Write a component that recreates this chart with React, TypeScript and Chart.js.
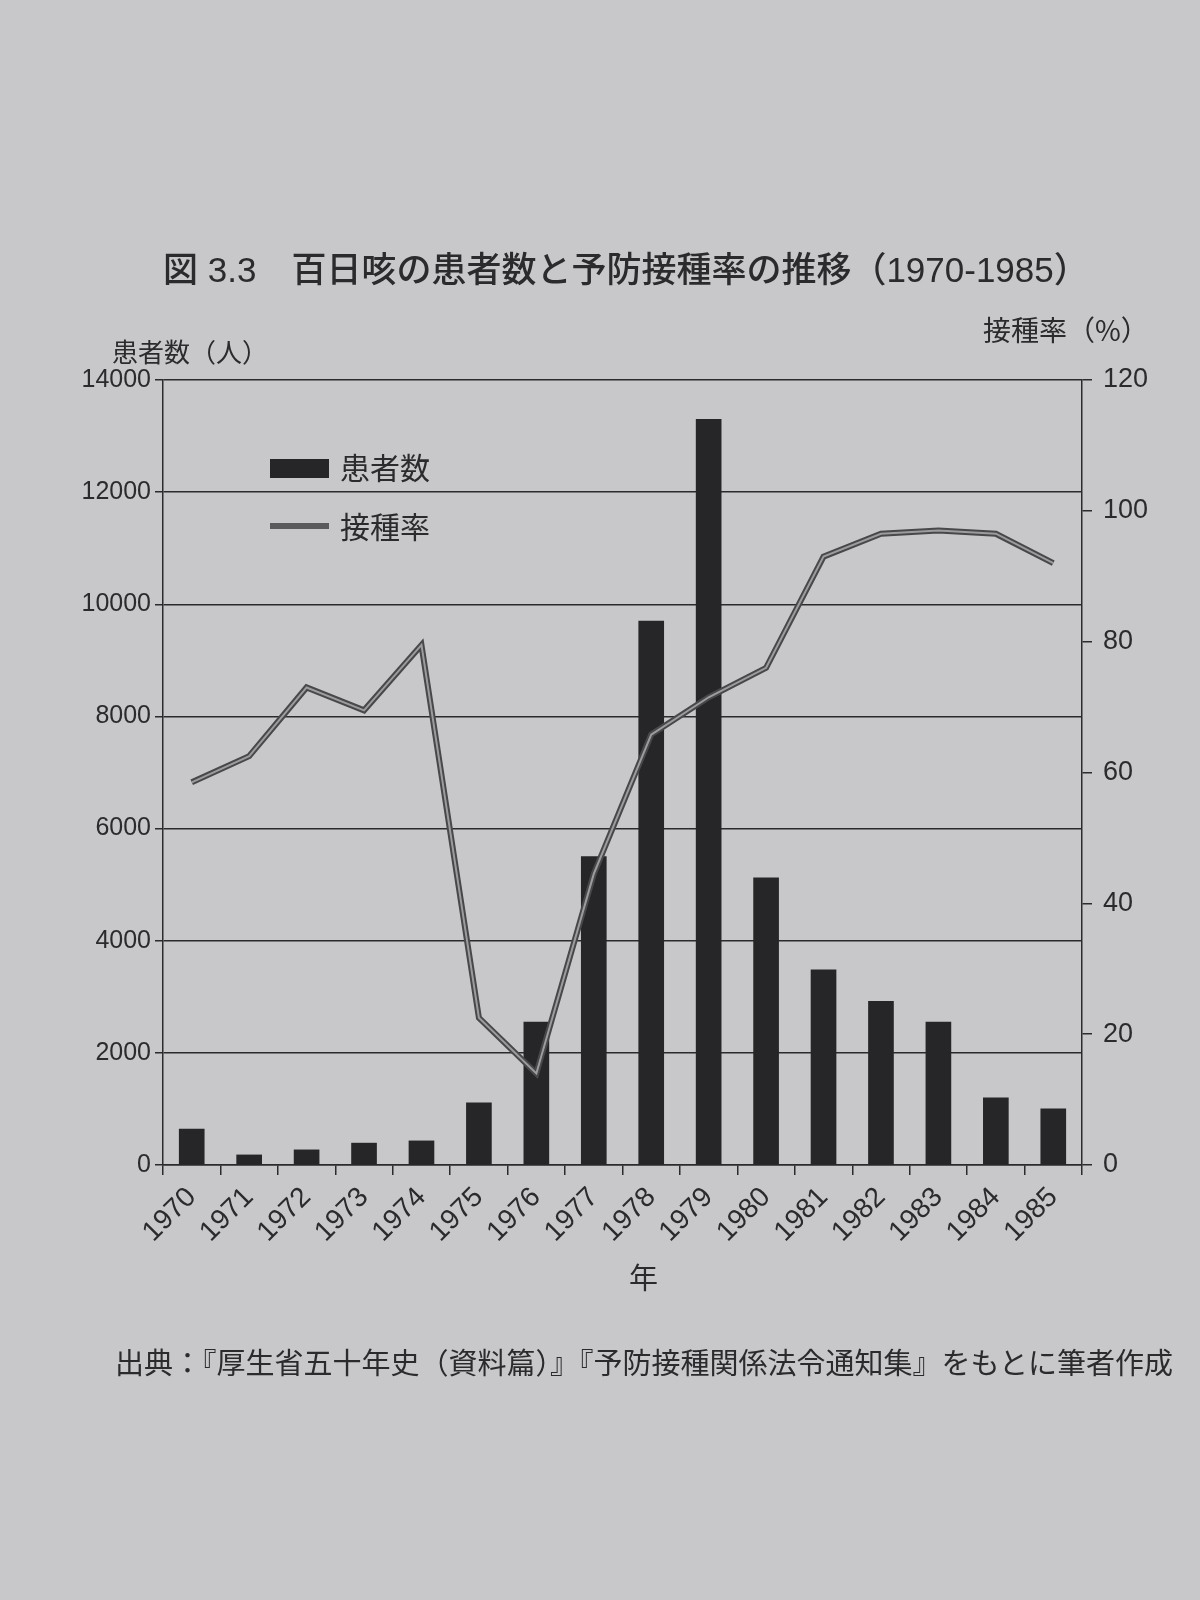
import React, { useEffect, useRef } from "react";
import { Chart, registerables } from "chart.js";

Chart.register(...registerables);

const years = ["1970","1971","1972","1973","1974","1975","1976","1977","1978","1979","1980","1981","1982","1983","1984","1985"];
const patients = [640, 180, 270, 390, 430, 1110, 2550, 5500, 9700, 13300, 5120, 3480, 2920, 2550, 1200, 1000];
const vaccinationRate = [58.5, 62.5, 73, 69.5, 79.5, 22.5, 14, 44.5, 65.8, 71.5, 76, 93, 96.5, 97, 96.5, 92];
const leftTicks = [0, 2000, 4000, 6000, 8000, 10000, 12000, 14000];
const rightTicks = [0, 20, 40, 60, 80, 100, 120];

const PAPER = "#c8c8cb";
const INK = "#2b2b2d";
const FONT = "'Noto Sans CJK JP', 'Noto Sans', sans-serif";
const TITLEFONT = "'Liberation Sans', 'Noto Sans CJK JP', sans-serif";
const NUMFONT = "'Liberation Sans', sans-serif";

export default function App() {
  const ref = useRef<HTMLCanvasElement | null>(null);

  useEffect(() => {
    if (!ref.current) return;
    const chart = new Chart(ref.current, {
      type: "bar",
      data: {
        labels: years,
        datasets: [
          {
            type: "line",
            label: "接種率",
            data: vaccinationRate,
            yAxisID: "yR",
            borderColor: "#9c9c9e",
            borderWidth: 2,
            pointRadius: 0,
            tension: 0,
            order: 0,
          },
          {
            type: "line",
            label: "接種率（外線）",
            data: vaccinationRate,
            yAxisID: "yR",
            borderColor: "#48484a",
            borderWidth: 6,
            pointRadius: 0,
            tension: 0,
            order: 1,
          },
          {
            type: "bar",
            label: "患者数",
            data: patients,
            yAxisID: "yL",
            backgroundColor: "#262628",
            barThickness: 25,
            order: 2,
          },
        ],
      },
      options: {
        responsive: false,
        animation: false,
        layout: { padding: { left: 63, right: 53, top: 380, bottom: 335 } },
        plugins: {
          legend: { display: false },
          tooltip: { enabled: false },
          title: { display: false },
        },
        scales: {
          x: {
            offset: true,
            grid: {
              offset: true,
              drawOnChartArea: false,
              drawTicks: true,
              tickLength: 10,
              color: INK,
              lineWidth: 1.5,
            },
            border: { display: true, color: INK, width: 1.5 },
            ticks: {
              minRotation: 45,
              maxRotation: 45,
              color: INK,
              font: { family: NUMFONT, size: 28 },
              padding: 6,
            },
            afterFit: (s: any) => { s.height = 100; },
          },
          yL: {
            position: "left",
            min: 0,
            max: 14000,
            afterBuildTicks: (s: any) => { s.ticks = leftTicks.map((v) => ({ value: v })); },
            grid: {
              color: INK,
              lineWidth: 1.5,
              tickLength: 8,
            },
            border: { display: true, color: INK, width: 1.5 },
            ticks: {
              color: INK,
              font: { family: NUMFONT, size: 25 },
              padding: 4,
              callback: (v: any) => String(v),
            },
            afterFit: (s: any) => { s.width = 100; },
          },
          yR: {
            position: "right",
            min: 0,
            max: 120,
            afterBuildTicks: (s: any) => { s.ticks = rightTicks.map((v) => ({ value: v })); },
            grid: {
              drawOnChartArea: false,
              color: INK,
              lineWidth: 1.5,
              tickLength: 10,
            },
            border: { display: true, color: INK, width: 1.5 },
            ticks: {
              color: INK,
              font: { family: NUMFONT, size: 27 },
              padding: 11,
              callback: (v: any) => String(v),
            },
            afterFit: (s: any) => { s.width = 65; },
          },
        },
      },
    });
    return () => chart.destroy();
  }, []);

  const abs = (style: React.CSSProperties): React.CSSProperties => ({
    position: "absolute",
    whiteSpace: "nowrap",
    fontFamily: FONT,
    color: INK,
    lineHeight: 1,
    ...style,
  });

  return (
    <div style={{ position: "absolute", left: 0, top: 0, width: 1200, height: 1600, background: PAPER, overflow: "hidden" }}>
      <canvas ref={ref} width={1200} height={1600} style={{ position: "absolute", left: 0, top: 0, width: 1200, height: 1600 }} />
      <div style={abs({ left: 163, top: 252, fontSize: 35, fontWeight: 500, fontFamily: TITLEFONT })}>
        図 3.3　百日咳の患者数と予防接種率の推移（1970-1985）
      </div>
      <div style={abs({ left: 112, top: 338, fontSize: 26 })}>患者数（人）</div>
      <div style={abs({ left: 983, top: 315, fontSize: 28 })}>接種率（%）</div>
      <div style={abs({ left: 270, top: 459, width: 59, height: 19, background: "#262628" })} />
      <div style={abs({ left: 340, top: 451, fontSize: 30 })}>患者数</div>
      <div style={abs({ left: 270, top: 523, width: 59, height: 6, background: "#5a5a5c" })} />
      <div style={abs({ left: 340, top: 510, fontSize: 30 })}>接種率</div>
      <div style={abs({ left: 629, top: 1262, fontSize: 29 })}>年</div>
      <div style={abs({ left: 115, top: 1347, fontSize: 29 })}>
        出典：『厚生省五十年史（資料篇）』『予防接種関係法令通知集』をもとに筆者作成
      </div>
    </div>
  );
}
